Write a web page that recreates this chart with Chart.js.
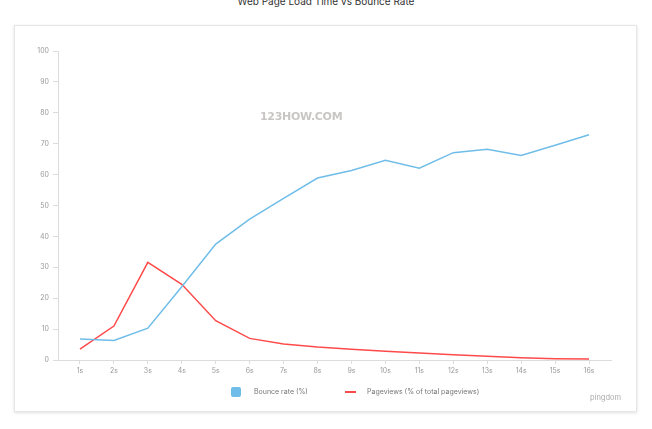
<!DOCTYPE html>
<html>
<head>
<meta charset="utf-8">
<script src="https://cdn.jsdelivr.net/npm/chart.js@4.4.1/dist/chart.umd.min.js"></script>
<style>
  body { margin: 0; background: #fff; font-family: Inter, Roboto, sans-serif; }
  #wrap { position: relative; width: 652px; height: 429px; overflow: hidden; }
  #title { position: absolute; left: 0; width: 652px; top: -5px; text-align: center; font-size: 10px; color: #333; }
  #card { position: absolute; left: 14px; top: 25px; width: 621px; height: 385px; border: 1px solid #e6e6e6; box-shadow: 0 1px 3px rgba(0,0,0,0.12); background: #fff; }
  #card canvas { position: absolute; left: 0; top: 0; }
  #mark { position: absolute; left: 260px; top: 110px; font-family: "DejaVu Sans", sans-serif; font-weight: bold; font-size: 11px; color: #c9c5c5; letter-spacing: -0.3px; }
  .leg { position: absolute; top: 387px; font-size: 7px; color: #777; line-height: 10px; }
  .sw { position: absolute; }
  #logo { position: absolute; left: 590px; top: 393px; font-size: 7.5px; color: #aaa; }
</style>
</head>
<body>
<div id="wrap">
  <div id="title">Web Page Load Time vs Bounce Rate</div>
  <div id="card"><canvas id="chart" width="621" height="385"></canvas></div>
  <div id="mark">123HOW.COM</div>
  <div id="legend"></div>
  <div id="logo">pingdom</div>
</div>
<script>
// 読み込み時間 (秒)
var loadTimes = ["1s", "2s", "3s", "4s", "5s", "6s", "7s", "8s", "9s", "10s", "11s", "12s", "13s", "14s", "15s", "16s"];
// 直帰率 (%)
var bounceRate = [6.8, 6.3, 10.3, 23.7, 37.5, 45.6, 52.3, 58.9, 61.3, 64.6, 62.1, 67.1, 68.2, 66.2, 69.5, 72.9];
// ページビュー (全体の%)
var pageviews = [3.5, 11.0, 31.6, 24.5, 12.7, 7.0, 5.2, 4.2, 3.5, 2.8, 2.3, 1.7, 1.2, 0.7, 0.4, 0.3];
var yTicks = [0, 10, 20, 30, 40, 50, 60, 70, 80, 90, 100];

var blue = "#6fbde8";
var red = "#ff4a4a";

function toPoints(values) {
  return values.map(function (v, i) { return { x: i + 1, y: v }; });
}

/**
グラフを表示
*/
function drawChart() {
  var config = {
    type: 'line',
    data: {
      datasets: [{
        label: "Bounce rate (%)",
        data: toPoints(bounceRate),
        borderColor: blue,
        backgroundColor: blue,
        borderWidth: 1.5,
        pointRadius: 0,
        tension: 0
      }, {
        label: "Pageviews (% of total pageviews)",
        data: toPoints(pageviews),
        borderColor: red,
        backgroundColor: red,
        borderWidth: 1.5,
        pointRadius: 0,
        tension: 0
      }]
    },
    options: {
      responsive: false,
      animation: false,
      layout: { padding: { top: 25, right: 25, left: 0, bottom: 0 } },
      plugins: { legend: { display: false }, tooltip: { enabled: false } },
      scales: {
        x: {
          type: 'linear',
          min: 1 - 22 / 34,
          max: loadTimes.length + 22 / 34,
          afterBuildTicks: function (scale) {
            scale.ticks = loadTimes.map(function (_, i) { return { value: i + 1 }; });
          },
          afterFit: function (scale) { scale.height = 51; },
          ticks: {
            autoSkip: false,
            maxRotation: 0,
            padding: 3,
            color: "#999",
            font: { size: 7, family: "Inter, Roboto, sans-serif" },
            callback: function (value) { return loadTimes[value - 1]; }
          },
          grid: { drawOnChartArea: false, drawTicks: true, tickLength: 4, color: "#dcdcdc" },
          border: { color: "#dcdcdc" }
        },
        y: {
          min: 0,
          max: 100,
          afterBuildTicks: function (scale) {
            scale.ticks = yTicks.map(function (v) { return { value: v }; });
          },
          afterFit: function (scale) { scale.width = 43; },
          ticks: {
            padding: 4,
            color: "#999",
            font: { size: 7, family: "Inter, Roboto, sans-serif" }
          },
          grid: { drawOnChartArea: false, drawTicks: true, tickLength: 5, color: "#dcdcdc" },
          border: { color: "#dcdcdc" }
        }
      }
    }
  };
  var ctx = document.getElementById("chart").getContext("2d");
  window.myLine = new Chart(ctx, config);
  drawLegend(config.data.datasets);
}

/**
凡例を表示
*/
function drawLegend(datasets) {
  var legend = document.getElementById("legend");
  var spots = [{ sw: 231, text: 254, rect: true }, { sw: 345, text: 367, rect: false }];
  datasets.forEach(function (ds, i) {
    var s = document.createElement("div");
    s.className = "sw";
    if (spots[i].rect) {
      s.style.cssText = "left:" + spots[i].sw + "px;top:387px;width:10px;height:10px;border-radius:2px;background:" + ds.borderColor;
    } else {
      s.style.cssText = "left:" + spots[i].sw + "px;top:391px;width:11px;height:1.5px;background:" + ds.borderColor;
    }
    legend.appendChild(s);
    var t = document.createElement("div");
    t.className = "leg";
    t.style.left = spots[i].text + "px";
    t.textContent = ds.label;
    legend.appendChild(t);
  });
}

drawChart();
</script>
</body>
</html>
